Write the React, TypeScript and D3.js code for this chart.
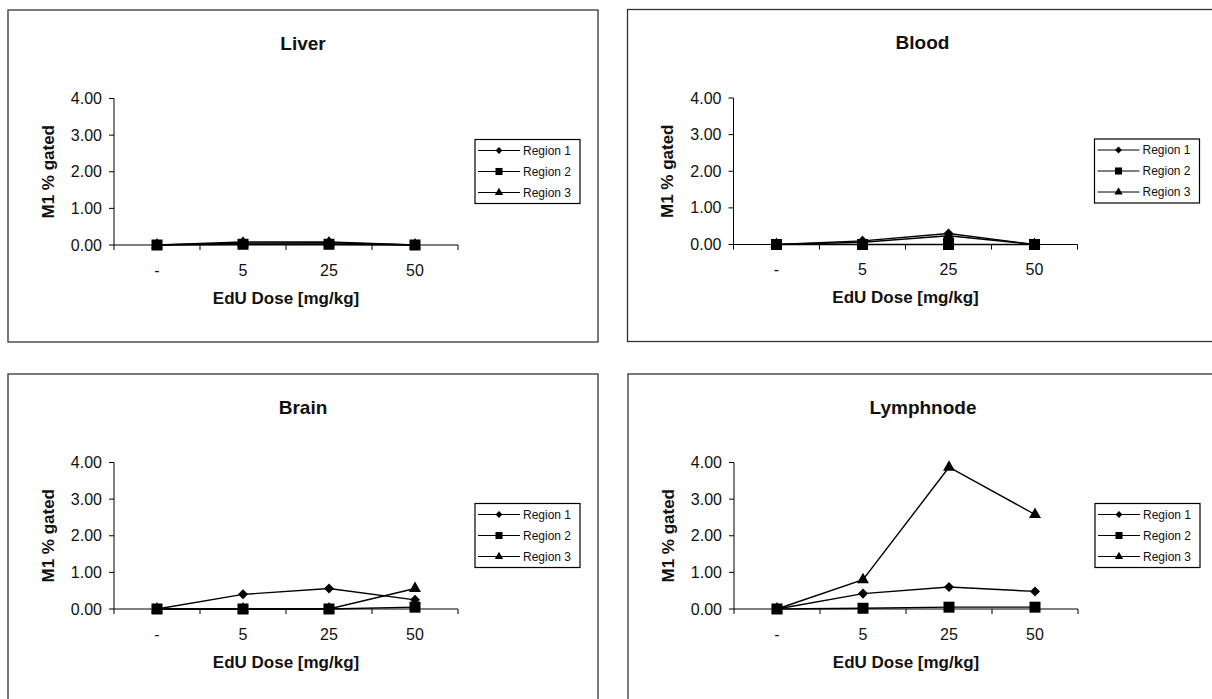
import React from 'react';
import * as d3 from 'd3';

// categories and axis ticks
const doses = ['-', '5', '25', '50'];
const yTicks = [0, 1, 2, 3, 4];
const seriesNames = ['Region 1', 'Region 2', 'Region 3'];

// values (M1 % gated)
const liverR1 = [0, 0.08, 0.08, 0];
const liverR2 = [0, 0.02, 0.02, 0];
const liverR3 = [0, 0.05, 0.06, 0];

const bloodR1 = [0, 0.1, 0.3, 0];
const bloodR2 = [0, 0, 0, 0];
const bloodR3 = [0, 0.06, 0.24, 0];

const brainR1 = [0, 0.4, 0.56, 0.25];
const brainR2 = [0, 0, 0, 0.05];
const brainR3 = [0, 0, 0, 0.56];

const lymphR1 = [0, 0.42, 0.6, 0.48];
const lymphR2 = [0, 0.02, 0.05, 0.05];
const lymphR3 = [0, 0.8, 3.87, 2.58];

const panels = [
  { title: 'Liver', series: [liverR1, liverR2, liverR3] },
  { title: 'Blood', series: [bloodR1, bloodR2, bloodR3] },
  { title: 'Brain', series: [brainR1, brainR2, brainR3] },
  { title: 'Lymphnode', series: [lymphR1, lymphR2, lymphR3] },
];

// frame offsets of the 2x2 grid
const offsets = [
  [8, 10],
  [627.5, 9.5],
  [8, 374],
  [628, 374],
];

const W = 590;
const H = 332;
const plot = { left: 106, right: 450, top: 88.5, bottom: 235 };
const font = '"Liberation Sans", Arial, sans-serif';
const ink = '#111';

const diamond = (d3 as any).symbolDiamond2 ?? d3.symbolDiamond;
const shapes = [diamond, d3.symbolSquare, d3.symbolTriangle];
const plotSizes = [64, 121, 62];
const legendSizes = [30, 50, 30];
// draw triangles first so the squares sit on top at zero
const drawOrder = [2, 0, 1];

const Panel: React.FC<{ title: string; series: number[][]; ox: number; oy: number }> = ({ title, series, ox, oy }) => {
  const x = d3.scaleBand<string>().domain(doses).range([plot.left, plot.right]);
  const y = d3.scaleLinear().domain([0, 4]).range([plot.bottom, plot.top]);
  const cx = (i: number) => (x(doses[i]) ?? 0) + x.bandwidth() / 2;
  const line = d3.line<number>().x((_, i) => cx(i)).y(d => y(d));
  const edges = [...doses.map(d => x(d) ?? 0), plot.right];

  return (
    <g transform={`translate(${ox},${oy})`}>
      <rect x={0} y={0} width={W} height={H} fill="#fff" stroke="#333" strokeWidth={1.3} />
      <text x={W / 2} y={33} textAnchor="middle" dominantBaseline="central"
        fontFamily={font} fontSize={19} fontWeight="bold" fill={ink}>{title}</text>

      {/* y axis */}
      <line x1={plot.left} x2={plot.left} y1={plot.top} y2={plot.bottom} stroke="#000" />
      {yTicks.map(t => (
        <g key={t}>
          <line x1={plot.left - 5} x2={plot.left} y1={y(t)} y2={y(t)} stroke="#000" />
          <text x={plot.left - 12} y={y(t)} textAnchor="end" dominantBaseline="central"
            fontFamily={font} fontSize={16} fill={ink}>{t.toFixed(2)}</text>
        </g>
      ))}
      <text transform={`translate(40,${(plot.top + plot.bottom) / 2}) rotate(-90)`} textAnchor="middle"
        dominantBaseline="central" fontFamily={font} fontSize={17} fontWeight="bold" fill={ink}>M1 % gated</text>

      {/* x axis */}
      <line x1={plot.left} x2={plot.right} y1={y(0)} y2={y(0)} stroke="#000" />
      {edges.map((e, i) => (
        <line key={i} x1={e} x2={e} y1={y(0)} y2={y(0) + 5} stroke="#000" />
      ))}
      {doses.map((d, i) => (
        <text key={d} x={cx(i)} y={260} textAnchor="middle" dominantBaseline="central"
          fontFamily={font} fontSize={16} fill={ink}>{d}</text>
      ))}
      <text x={(plot.left + plot.right) / 2} y={288} textAnchor="middle" dominantBaseline="central"
        fontFamily={font} fontSize={17} fontWeight="bold" fill={ink}>EdU Dose [mg/kg]</text>

      {/* series */}
      {drawOrder.map(s => (
        <g key={s}>
          <path d={line(series[s]) ?? ''} fill="none" stroke="#000" strokeWidth={1.4} />
          {series[s].map((v, i) => (
            <path key={i} transform={`translate(${cx(i)},${y(v)})`}
              d={d3.symbol(shapes[s], plotSizes[s])() ?? ''} fill="#000" />
          ))}
        </g>
      ))}

      {/* legend */}
      <rect x={467} y={129.5} width={105} height={64} fill="#fff" stroke="#000" strokeWidth={1.2} />
      {seriesNames.map((n, i) => {
        const ly = 140.5 + i * 21;
        return (
          <g key={n}>
            <line x1={470} x2={512} y1={ly} y2={ly} stroke="#000" />
            <path transform={`translate(491,${ly})`} d={d3.symbol(shapes[i], legendSizes[i])() ?? ''} fill="#000" />
            <text x={515} y={ly} dominantBaseline="central" fontFamily={font} fontSize={12} fill={ink}>{n}</text>
          </g>
        );
      })}
    </g>
  );
};

export default function App() {
  return (
    <svg width={1212} height={699} viewBox="0 0 1212 699"
      style={{ position: 'absolute', left: 0, top: 0, background: '#fff' }}>
      <rect width={1212} height={699} fill="#fff" />
      {panels.map((p, i) => (
        <Panel key={p.title} title={p.title} series={p.series} ox={offsets[i][0]} oy={offsets[i][1]} />
      ))}
    </svg>
  );
}
